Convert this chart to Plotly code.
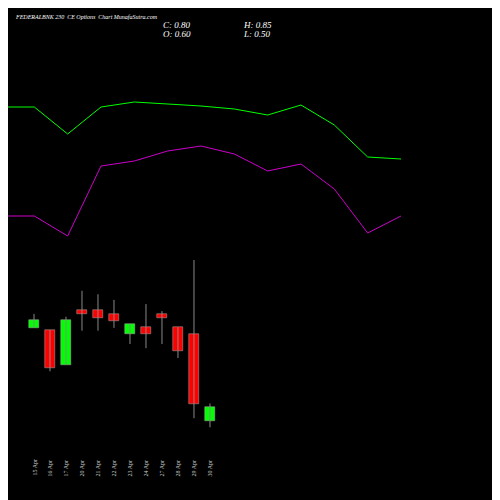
import plotly.graph_objects as go

dates = ["15 Apr","16 Apr","17 Apr","20 Apr","21 Apr","22 Apr","23 Apr","24 Apr","27 Apr","28 Apr","29 Apr","30 Apr"]
opens = [1.93,1.90,1.40,2.19,2.19,2.13,1.84,1.94,2.13,1.94,1.84,0.60]
highs = [2.13,1.90,2.09,2.46,2.41,2.33,1.99,2.27,2.17,1.94,2.90,0.85]
lows =  [1.93,1.31,1.40,1.89,1.89,1.93,1.70,1.64,1.70,1.50,0.64,0.51]
closes= [2.04,1.36,2.04,2.13,2.07,2.03,1.99,1.84,2.07,1.60,0.84,0.80]
green_line = [394,394,367,394,399,397,395,392,386,396,376,344,342]
magenta_line = [285,285,265,335,340,350,355,347,330,337,312,268,285]

idx = list(range(len(dates)))
fig = go.Figure()
for i in idx:
    up = closes[i] >= opens[i]
    col = "#00ff00" if up else "#ff0000"
    fig.add_trace(go.Scatter(x=[i, i], y=[lows[i], highs[i]], mode="lines",
                             line=dict(color="#888888", width=1), showlegend=False, hoverinfo="skip"))
    fig.add_trace(go.Bar(x=[i], base=[min(opens[i], closes[i])],
                         y=[max(abs(closes[i]-opens[i]), 0.01)], width=0.6,
                         marker=dict(color=col, line=dict(color="#aaaaaa", width=0.5)),
                         showlegend=False))
lx = list(range(len(green_line)))
fig.add_trace(go.Scatter(x=lx, y=green_line, xaxis="x2", yaxis="y2", mode="lines",
                         line=dict(color="#00ff00", width=1), showlegend=False))
fig.add_trace(go.Scatter(x=lx, y=magenta_line, xaxis="x2", yaxis="y2", mode="lines",
                         line=dict(color="#cc00cc", width=1), showlegend=False))
for i, d in enumerate(dates):
    fig.add_annotation(x=i, y=0.06, xref="x", yref="paper", text=d, textangle=-90,
                       showarrow=False, yanchor="bottom",
                       font=dict(size=6, color="#cccccc", family="Liberation Serif"))
fnt = dict(family="Liberation Serif", color="white")
fig.add_annotation(x=0.01, y=0.982, xref="paper", yref="paper", xanchor="left", yanchor="middle",
                   text="<i>FEDERALBNK 230  CE Options  Chart MunafaSutra.com</i>",
                   showarrow=False, font=dict(size=6, **fnt))
for t, x, y in [("C: 0.80", 0.306, 0.966), ("O: 0.60", 0.306, 0.948), ("H: 0.85", 0.466, 0.966), ("L: 0.50", 0.466, 0.948)]:
    fig.add_annotation(x=x, y=y, xref="paper", yref="paper", xanchor="left", yanchor="middle",
                       text="<i>" + t + "</i>", showarrow=False, font=dict(size=9, **fnt))
fig.update_layout(
    width=500, height=500, margin=dict(l=0, r=0, t=0, b=0),
    paper_bgcolor="black", plot_bgcolor="black", bargap=0,
    xaxis=dict(range=[-1.625, 29.63], visible=False),
    yaxis=dict(range=[-0.643, 6.5], visible=False),
    xaxis2=dict(range=[0.21, 15.21], overlaying="x", visible=False),
    yaxis2=dict(range=[-7, 493], overlaying="y", visible=False),
)
fig.write_html("out.html")
